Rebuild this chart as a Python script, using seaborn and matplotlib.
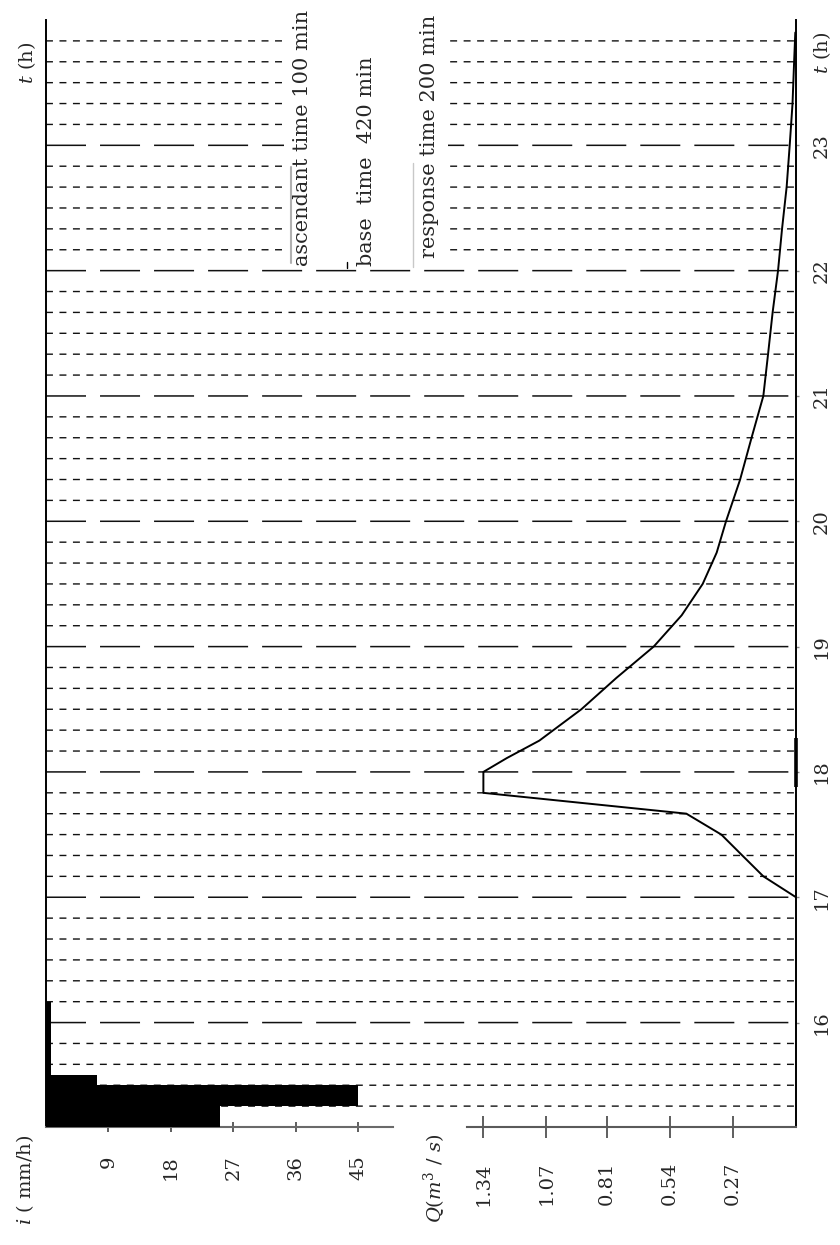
import numpy as np
import matplotlib
matplotlib.use("Agg")
import matplotlib.pyplot as plt
import seaborn as sns
from matplotlib.lines import Line2D
from matplotlib.patches import Rectangle

# ---------------- data ----------------
# rainfall hyetograph (time in decimal hours, intensity in mm/h)
rain_start_h = [15 + 10/60, 15 + 20/60, 15 + 30/60, 15 + 35/60]
rain_end_h = [15 + 20/60, 15 + 30/60, 15 + 35/60, 16 + 10/60]
rain_i = [25.0, 45.0, 7.3, 0.7]

# discharge hydrograph
q_time_h = [17.0, 17.167, 17.333, 17.5, 17.667, 17.833, 18.0, 18.11, 18.25,
            18.5, 18.75, 19.0, 19.25, 19.5, 19.75, 20.0, 20.33, 20.67, 21.0,
            21.33, 21.67, 22.0, 22.33, 22.67, 23.0, 23.33, 23.67, 23.9]
q_value = [0.0, 0.14, 0.23, 0.32, 0.47, 1.34, 1.34, 1.24, 1.10,
           0.92, 0.77, 0.61, 0.49, 0.40, 0.34, 0.30, 0.24, 0.19, 0.14,
           0.12, 0.10, 0.077, 0.06, 0.04, 0.027, 0.015, 0.008, 0.003]

excess_t = [17.88, 18.27]

hour_ticks = [16, 17, 18, 19, 20, 21, 22, 23]
hour_labels = ["16", "17", "18", "19", "20", "21", "22", "23"]
i_ticks = [9, 18, 27, 36, 45]
i_labels = ["9", "18", "27", "36", "45"]
q_ticks = [1.34, 1.07, 0.81, 0.54, 0.27]
q_labels = ["1.34", "1.07", "0.81", "0.54", "0.27"]

annotations = ["ascendant time 100 min", "base  time  420 min", "response time 200 min"]

# ---------------- style ----------------
sns.set_theme(style="white")
plt.rcParams["font.family"] = ["DejaVu Serif"]
plt.rcParams["mathtext.fontset"] = "dejavuserif"
plt.rcParams["lines.scale_dashes"] = False

W, H = 840, 1245
fig = plt.figure(figsize=(W / 100, H / 100), dpi=100)
fig.patch.set_facecolor("white")


def fx(px):
    return px / W


def fy(py):
    return 1 - py / H


L, R, T, B = 46, 796, 20, 1127
rect = [fx(L), fy(B), (R - L) / W, (B - T) / H]
ax = fig.add_axes(rect)
axq = fig.add_axes(rect, sharey=ax)
axq.patch.set_visible(False)
ax.set_facecolor("white")

t0, t1 = 15 + 10/60, 24.0
ax.set_ylim(t0, t1)
ax.set_xlim(0, (R - L) / 6.94)
axq.set_xlim((R - L) / 233.3, 0)

# grid of 10-minute lines
grid_t = np.arange(15 * 60 + 20, 24 * 60, 10) / 60.0
for g in grid_t:
    is_hour = int(round(g * 60)) % 60 == 0
    if is_hour:
        ax.axhline(g, color="#111111", lw=1.1, dashes=(28.8, 10.1), snap=False, zorder=1)
    else:
        ax.axhline(g, color="#111111", lw=1.0, dashes=(5.0, 4.7), snap=False, zorder=1)

# rainfall bars
heights = np.subtract(rain_end_h, rain_start_h)
ax.barh(rain_start_h, rain_i, height=heights, left=0, align="edge",
        color="black", edgecolor="none", zorder=3)

# discharge curve
sns.lineplot(x=q_value, y=q_time_h, ax=axq, sort=False, estimator=None,
             color="black", lw=1.4, zorder=4)
axq.plot([0, 0], excess_t, color="black", lw=2.6, solid_capstyle="butt",
         clip_on=False, zorder=5)

# spines
for s in ["top", "right"]:
    ax.spines[s].set_visible(False)
ax.spines["left"].set_color("black")
ax.spines["left"].set_linewidth(1.4)
ax.spines["bottom"].set_color("#6a6a6a")
ax.spines["bottom"].set_linewidth(1.5)
ax.spines["bottom"].set_bounds(0, 50)

for s in ["top", "left"]:
    axq.spines[s].set_visible(False)
axq.spines["right"].set_color("black")
axq.spines["right"].set_linewidth(1.4)
axq.spines["bottom"].set_color("#5a5a5a")
axq.spines["bottom"].set_linewidth(1.5)
axq.spines["bottom"].set_bounds(0, 1.41)

# ticks: rainfall axis
ax.set_xticks(i_ticks)
ax.set_xticklabels(i_labels)
ax.tick_params(axis="x", direction="inout", length=6.5, width=1.1, color="#333333",
               pad=17, labelsize=14, labelrotation=90, bottom=True, top=False)
ax.tick_params(axis="y", left=False, labelleft=False, right=False, labelright=False)

# ticks: discharge axis
axq.set_xticks(q_ticks)
axq.set_xticklabels(q_labels)
axq.tick_params(axis="x", direction="inout", length=16.5, width=1.1, color="#333333",
                pad=17, labelsize=14, labelrotation=90, bottom=True, top=False)
axq.yaxis.tick_right()
axq.set_yticks(hour_ticks)
axq.set_yticklabels(hour_labels)
axq.tick_params(axis="y", direction="out", length=2.2, width=1.0, color="#888888",
                pad=10, labelsize=14, labelrotation=90, left=False, labelleft=False)
for lab in axq.get_yticklabels():
    lab.set_va("center")
ax.grid(False)
axq.grid(False)
ax.set_xlabel("")
axq.set_xlabel("")
ax.set_ylabel("")
axq.set_ylabel("")

# axis titles
fig.text(fx(822), fy(53), r"$t$ (h)", rotation=90, ha="center", va="center", fontsize=14)
fig.text(fx(27), fy(63), r"$t$ (h)", rotation=90, ha="center", va="center", fontsize=14)
fig.text(fx(25), fy(1180), r"$i$ ( mm/h)", rotation=90, ha="center", va="center", fontsize=14)
fig.text(fx(435), fy(1178), r"$Q$($m^3$ / $s$)", rotation=90, ha="center", va="center", fontsize=14)

# annotation box (white background over grid)
fig.add_artist(Rectangle((fx(284), fy(262)), (448 - 284) / W, 262 / H,
                         transform=fig.transFigure, facecolor="white",
                         edgecolor="none", zorder=2))
fig.add_artist(Line2D([fx(291), fx(291)], [fy(263), fy(167)], transform=fig.transFigure,
                      color="#b0b0b0", lw=1.5, zorder=2.5))
fig.add_artist(Line2D([fx(413), fx(413)], [fy(267), fy(163)], transform=fig.transFigure,
                      color="#c8c8c8", lw=1.0, zorder=2.5))
fig.add_artist(Line2D([fx(347), fx(347)], [fy(268), fy(262)], transform=fig.transFigure,
                      color="black", lw=1.0, zorder=2.5))

fig.text(fx(302), fy(266), annotations[0], rotation=90, ha="center", va="bottom",
         fontsize=15, zorder=3)
fig.text(fx(367), fy(266), annotations[1], rotation=90, ha="center", va="bottom",
         fontsize=15, zorder=3)
fig.text(fx(430), fy(258), annotations[2], rotation=90, ha="center", va="bottom",
         fontsize=15, zorder=3)

fig.savefig("out.png", dpi=100, facecolor="white")
